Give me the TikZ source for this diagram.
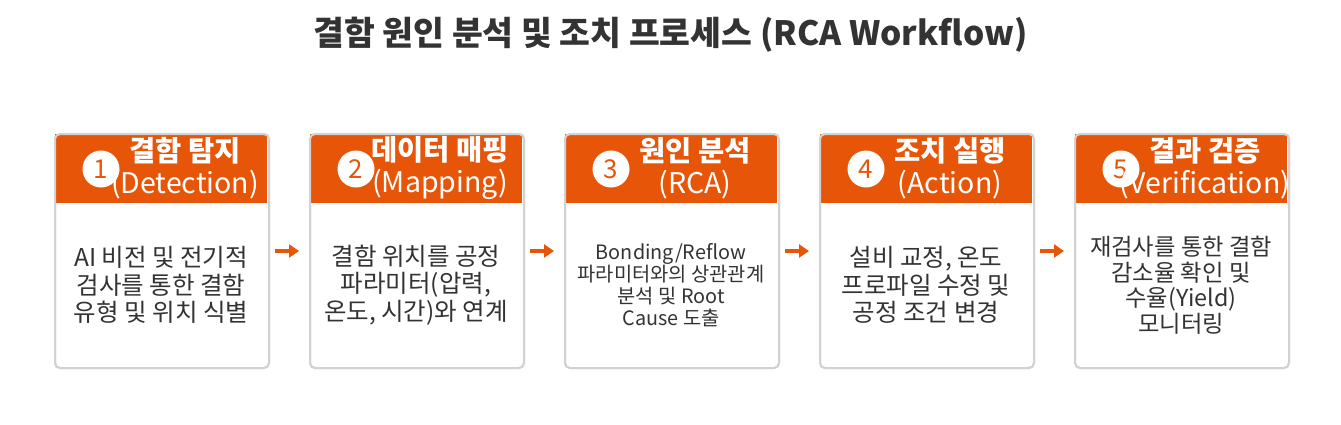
\documentclass[tikz,border=0pt]{standalone}
\usepackage{fontspec}
\setmainfont{Noto Sans CJK KR}
\usetikzlibrary{arrows.meta}
\definecolor{orng}{HTML}{E65508}
\definecolor{txt}{HTML}{333333}
\definecolor{bord}{HTML}{D2D2D2}
\tikzset{
  card/.style={draw=bord, line width=2pt, rounded corners=5pt, fill=white,
    minimum width=214pt, minimum height=234pt, inner sep=0pt},
  cardline/.style={card, fill=none},
  hdr/.style={fill=orng, minimum width=212pt, minimum height=69pt, inner sep=0pt},
  num/.style={circle, fill=white, minimum size=37pt, inner sep=0pt, text=orng,
    font=\fontsize{26}{26}\selectfont},
  htext/.style={text=white, align=center, inner sep=0pt,
    font=\fontsize{28.5}{32}\selectfont},
  body/.style={text=txt, align=center, inner sep=0pt,
    font=\fontsize{24.5}{27.5}\selectfont},
  bodysmall/.style={body, font=\fontsize{19.8}{22}\selectfont},
  bodyfive/.style={body, font=\fontsize{23.3}{25.5}\selectfont},
  flow/.style={draw=orng, line width=4.5pt,
    -{Triangle[length=10pt,width=13pt]}, shorten <=5pt, shorten >=10pt},
}
\newcommand\rcacard[6]{%
  \node[card, anchor=north west] (c#1) at (#2,133) {};
  \node[hdr, anchor=north west] (h#1) at (#2+1,134) {};
  \node[cardline] (f#1) at (c#1.center) {};
  \node[num] (n#1) at (#2+47,169) {#1};
  \node[htext] (t#1) at (#2+131,168) {{\bfseries #3}\\#4};
  \node[#5] (b#1) at (#2+107,285) {#6};
}
\begin{document}
\begin{tikzpicture}[x=1pt,y=-1pt]
\useasboundingbox (0,0) rectangle (1341,424);
\node[text=txt, font=\fontsize{33.5}{33.5}\selectfont\bfseries] (title) at (670.5,35)
  {결함 원인 분석 및 조치 프로세스 (RCA Workflow)};
\rcacard{1}{54}{결함 탐지}{(Detection)}{body}{AI 비전 및 전기적\\검사를 통한 결함\\유형 및 위치 식별}
\rcacard{2}{309}{데이터 매핑}{(Mapping)}{body}{결함 위치를 공정\\파라미터(압력,\\온도, 시간)와 연계}
\rcacard{3}{564}{원인 분석}{(RCA)}{bodysmall}{Bonding/Reflow\\파라미터와의 상관관계\\분석 및 Root\\Cause 도출}
\rcacard{4}{819}{조치 실행}{(Action)}{body}{설비 교정, 온도\\프로파일 수정 및\\공정 조건 변경}
\rcacard{5}{1074}{결과 검증}{(Verification)}{bodyfive}{재검사를 통한 결함\\감소율 확인 및\\수율(Yield)\\모니터링}
\draw[flow] (c1.east) -- (c2.west);
\draw[flow] (c2.east) -- (c3.west);
\draw[flow] (c3.east) -- (c4.west);
\draw[flow] (c4.east) -- (c5.west);
\end{tikzpicture}
\end{document}
